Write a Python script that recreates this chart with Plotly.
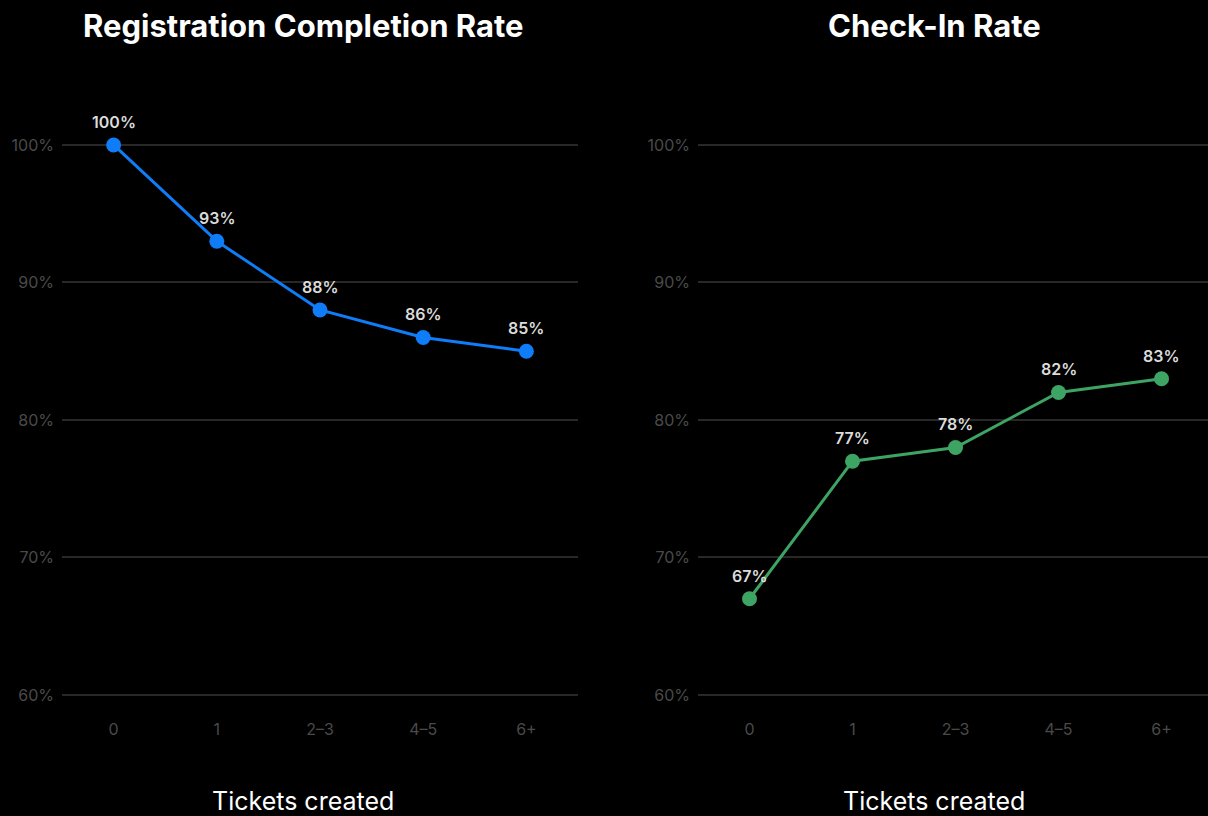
import plotly.graph_objects as go

categories = ["0", "1", "2–3", "4–5", "6+"]
registration = [100, 93, 88, 86, 85]
checkin = [67, 77, 78, 82, 83]
y_ticks = [60, 70, 80, 90, 100]
y_tick_labels = ["60%", "70%", "80%", "90%", "100%"]
titles = ["Registration Completion Rate", "Check-In Rate"]
x_title = "Tickets created"

BLUE = "#0f7df7"
GREEN = "#3ea463"
GRID = "#282828"
TICK = "#4a4a4a"
FONT = "Inter, Open Sans, sans-serif"

fig = go.Figure()

def add_series(vals, color, xa, ya):
    fig.add_trace(go.Scatter(
        x=categories, y=vals, mode="lines+markers",
        line=dict(color=color, width=3),
        marker=dict(color=color, size=15),
        xaxis=xa, yaxis=ya, showlegend=False, hoverinfo="skip",
        cliponaxis=False,
    ))
    for c, v in zip(categories, vals):
        fig.add_annotation(x=c, y=v, xref=xa, yref=ya, text=f"{v}%", showarrow=False,
                           yshift=23, xanchor="center", yanchor="middle",
                           font=dict(color="#dcdcdc", size=16, family=FONT, weight=600))

add_series(registration, BLUE, "x", "y")
add_series(checkin, GREEN, "x2", "y2")

ydom = [0.123, 0.878]
yrange = [58.5, 103.3]

xcommon = dict(type="category", showgrid=False, zeroline=False, showline=False,
               ticks="", tickfont=dict(color=TICK, size=16, family=FONT),
               automargin=False, ticklabelstandoff=2)
ycommon = dict(range=yrange, tickmode="array", tickvals=y_ticks, ticktext=y_tick_labels,
               showgrid=True, gridcolor=GRID, gridwidth=2, zeroline=False, showline=False,
               ticks="", tickfont=dict(color=TICK, size=16, family=FONT),
               automargin=False, ticklabelstandoff=7)

fig.update_layout(
    width=1208, height=816,
    paper_bgcolor="#000000", plot_bgcolor="#000000",
    margin=dict(l=0, r=0, t=0, b=0),
    xaxis=dict(domain=[62/1208, 578/1208], range=[-0.5, 4.5], anchor="y", **xcommon),
    yaxis=dict(domain=ydom, anchor="x", **ycommon),
    xaxis2=dict(domain=[698/1208, 1.0], range=[-0.5, 4.451], anchor="y2", **xcommon),
    yaxis2=dict(domain=ydom, anchor="x2", **ycommon),
)

for cx, t in zip([303, 934], titles):
    fig.add_annotation(x=cx/1208, y=1-25/816, xref="paper", yref="paper",
                       text=f"<b>{t}</b>", showarrow=False, xanchor="center", yanchor="middle",
                       font=dict(color="#ffffff", size=31, family=FONT))
    fig.add_annotation(x=cx/1208, y=1-801/816, xref="paper", yref="paper",
                       text=x_title, showarrow=False, xanchor="center", yanchor="middle",
                       font=dict(color="#ffffff", size=25, family=FONT))

fig.write_html("out.html")
